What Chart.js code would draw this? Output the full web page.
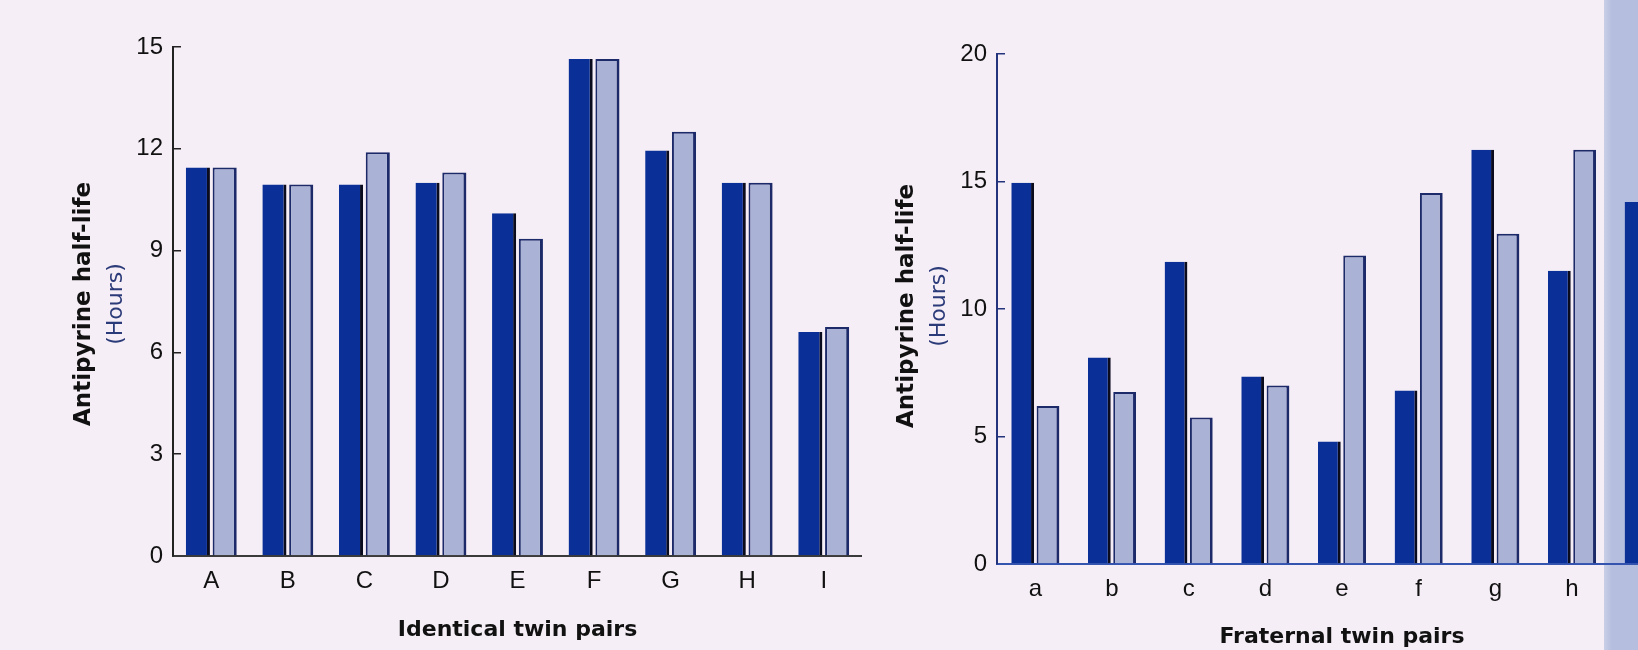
<!DOCTYPE html>
<html>
<head>
<meta charset="utf-8">
<script src="https://cdn.jsdelivr.net/npm/chart.js@4.4.1/dist/chart.umd.min.js"></script>
<style>
html, body { margin: 0; padding: 0; background: #f5eef6; overflow: hidden; }
#wrap { position: relative; width: 1638px; height: 650px; overflow: hidden; }
#strip { position: absolute; left: 1604px; top: 0; width: 34px; height: 650px; background: linear-gradient(90deg, #c9cfe6 0px, #b5bedf 8px, #b5bedf 34px); }
canvas { position: absolute; top: 0; }
#identical { left: 0; }
#fraternal { left: 860px; }
</style>
</head>
<body>
<div id="wrap">
  <div id="strip"></div>
  <canvas id="identical" width="862" height="650"></canvas>
  <canvas id="fraternal" width="827" height="650"></canvas>
</div>
<script>
// identical twins (hours)
const identicalPairs = ['A', 'B', 'C', 'D', 'E', 'F', 'G', 'H', 'I']
const identicalTwin1 = [11.45, 10.95, 10.95, 11.0, 10.1, 14.65, 11.95, 11.0, 6.6]
const identicalTwin2 = [11.45, 10.95, 11.9, 11.3, 9.35, 14.65, 12.5, 11.0, 6.75]
const identicalTicks = [0, 3, 6, 9, 12, 15]

// fraternal twins (hours) - pair "i" is cut off at the page edge
const fraternalPairs = ['a', 'b', 'c', 'd', 'e', 'f', 'g', 'h', 'i']
const fraternalTwin1 = [14.95, 8.1, 11.85, 7.35, 4.8, 6.8, 16.25, 11.5, 14.2]
const fraternalTwin2 = [6.2, 6.75, 5.75, 7.0, 12.1, 14.55, 12.95, 16.25, null]
const fraternalTicks = [0, 5, 10, 15, 20]

const darkBlue = '#0a2f96'
const lightBlue = '#aab3d6'
const tickFont = { family: '"Liberation Sans", Arial, sans-serif', size: 24 }
const titleFont = { family: '"DejaVu Sans", sans-serif', size: 22, weight: 'bold' }

// two-line rotated y title: bold line + "(Hours)"
const yTitle = {
    id: 'yTitle',
    afterDraw(chart, args, opts) {
        const ctx = chart.ctx
        ctx.save()
        ctx.translate(opts.x, opts.y)
        ctx.rotate(-Math.PI / 2)
        ctx.textAlign = 'center'
        ctx.textBaseline = 'middle'
        ctx.font = 'bold 23px "DejaVu Sans"'
        ctx.fillStyle = '#111111'
        ctx.fillText('Antipyrine half-life', 0, 0)
        ctx.font = '22px "DejaVu Sans"'
        ctx.fillStyle = '#2b3a78'
        ctx.fillText('(Hours)', 0, opts.gap)
        ctx.restore()
    }
}

function makeChart(id, labels, twin1, twin2, ticks, yMax, opt) {
    return new Chart(document.getElementById(id), {
        type: 'bar',
        data: {
            labels: labels,
            datasets: [{
                data: twin1,
                backgroundColor: darkBlue,
                borderColor: '#0b0b1e',
                borderWidth: { right: 3, left: 0, top: 0, bottom: 0 },
                barPercentage: 0.9,
                categoryPercentage: opt.cat
            }, {
                data: twin2,
                backgroundColor: lightBlue,
                borderColor: '#1d2a6a',
                borderWidth: { left: 2, top: 2, right: 3, bottom: 0 },
                barPercentage: 0.9,
                categoryPercentage: opt.cat
            }]
        },
        options: {
            responsive: false,
            animation: false,
            layout: { padding: { top: opt.top, left: 0, right: 0, bottom: 0 } },
            plugins: {
                legend: { display: false },
                tooltip: { enabled: false },
                yTitle: { x: opt.titleX, y: opt.titleY, gap: 32 }
            },
            scales: {
                x: {
                    grid: { display: false },
                    border: { display: true, color: opt.baseColor, width: 2 },
                    ticks: { font: tickFont, color: '#111111', padding: 3 },
                    title: {
                        display: true,
                        text: opt.xTitle,
                        font: titleFont,
                        color: '#111111',
                        padding: { top: 0, bottom: opt.titlePad }
                    },
                    afterFit: s => { s.height = opt.xHeight }
                },
                y: {
                    min: 0,
                    max: yMax,
                    grid: { display: true, drawOnChartArea: false, tickLength: -8, color: opt.axisColor, lineWidth: 1.5 },
                    border: { display: true, color: opt.axisColor, width: 2 },
                    ticks: { font: tickFont, color: '#111111', padding: 18 },
                    afterBuildTicks: s => { s.ticks = ticks.map(v => ({ value: v })) },
                    afterFit: s => { s.width = opt.yWidth }
                }
            }
        },
        plugins: [yTitle]
    })
}

makeChart('identical', identicalPairs, identicalTwin1, identicalTwin2, identicalTicks, 15, {
    cat: 0.7, top: 47, xHeight: 94, yWidth: 173, titlePad: 7,
    titleX: 84, titleY: 304, xTitle: 'Identical twin pairs',
    baseColor: '#3a3a3a', axisColor: '#222222'
})

makeChart('fraternal', fraternalPairs, fraternalTwin1, fraternalTwin2, fraternalTicks, 20, {
    cat: 0.66, top: 54, xHeight: 86, yWidth: 137, titlePad: 0,
    titleX: 47, titleY: 306, xTitle: 'Fraternal twin pairs',
    baseColor: '#3554b0', axisColor: '#23347d'
})
</script>
</body>
</html>
